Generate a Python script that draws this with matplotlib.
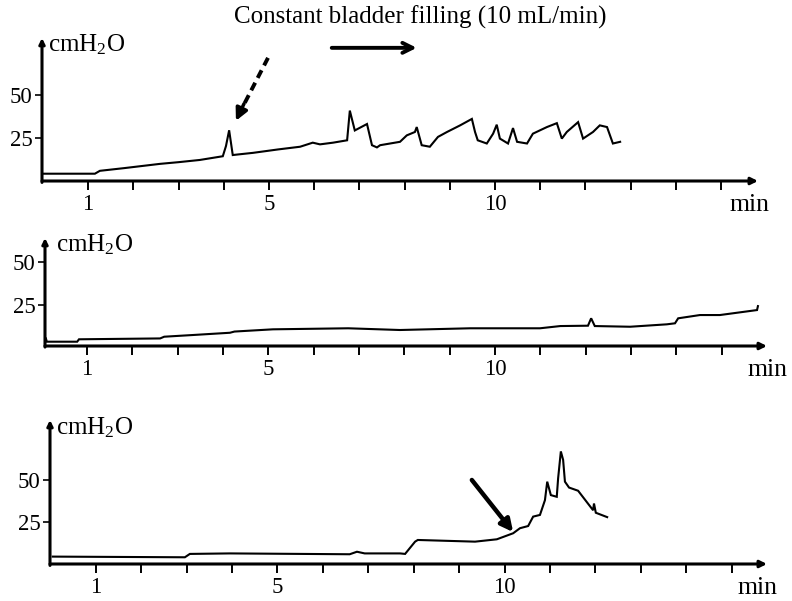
import matplotlib
matplotlib.use("Agg")
import matplotlib.pyplot as plt

plt.rcParams['font.family'] = ['Liberation Serif', 'DejaVu Serif']
plt.rcParams['mathtext.fontset'] = 'custom'
plt.rcParams['mathtext.rm'] = 'Liberation Serif'
plt.rcParams['mathtext.it'] = 'Liberation Serif'

# ---- data (time in min, pressure in cmH2O) ----
top_t = [0, 1.15, 1.26, 1.8, 2.59, 3.0, 3.47, 3.98, 4.05, 4.12, 4.2, 4.3, 4.65, 5.2,
         5.69, 5.97, 6.13, 6.42, 6.73, 6.79, 6.9, 7.17, 7.28, 7.39, 7.46, 7.9, 8.05,
         8.23, 8.27, 8.38, 8.56, 8.74, 8.94, 9.23, 9.49, 9.56, 9.62, 9.82, 9.96, 10.04,
         10.11, 10.29, 10.4, 10.49, 10.71, 10.84, 11.15, 11.37, 11.48, 11.59, 11.84,
         11.95, 12.17, 12.32, 12.48, 12.61, 12.77]
top_p = [3.7, 3.7, 5.4, 7.0, 9.5, 10.5, 11.8, 14.0, 20.0, 29.3, 14.7, 15.0, 16.0, 18.0,
         19.6, 22.0, 21.0, 22.0, 23.4, 40.9, 29.2, 33.0, 20.5, 19.2, 20.5, 22.5, 26.3,
         28.3, 31.2, 20.5, 19.6, 25.4, 28.3, 32.2, 36.0, 28.3, 23.4, 21.5, 27.3, 32.6,
         24.4, 21.5, 30.6, 22.5, 21.5, 27.3, 31.2, 33.5, 24.4, 28.3, 34.1,
         24.4, 28.3, 32.2, 31.2, 21.5, 22.5]

mid_t = [0.09, 0.11, 0.78, 0.82, 2.61, 2.7, 3.34, 4.15, 4.25, 5.1, 6.76, 7.9, 9.45,
         10.99, 11.44, 12.05, 12.12, 12.2, 12.98, 13.79, 13.97, 14.04, 14.52, 14.96,
         15.78, 15.8]
mid_p = [5.6, 3.7, 3.7, 5.1, 5.6, 6.6, 7.6, 8.9, 9.6, 10.9, 11.5, 10.5, 11.5,
         11.5, 12.8, 13.0, 17.3, 12.8, 12.4, 13.8, 14.4, 17.3, 19.2, 19.2,
         22.1, 24.4]

bot_t = [0.05, 2.96, 3.07, 3.95, 6.59, 6.75, 6.92, 7.7, 7.81, 8.03, 8.09, 9.35, 9.83,
         10.19, 10.34, 10.52, 10.63, 10.78, 10.89, 10.94, 11.02, 11.15, 11.18, 11.24,
         11.29, 11.33, 11.42, 11.62, 11.95, 11.97, 12.01, 12.26]
bot_p = [4.4, 4.0, 6.0, 6.3, 5.8, 7.3, 6.3, 6.3, 6.0, 13.3, 14.3, 13.3, 14.7,
         18.3, 21.3, 22.6, 28.2, 29.2, 38.0, 49.0, 41.0, 40.0, 51.0, 67.0,
         62.0, 49.0, 45.5, 43.6, 32.0, 36.0, 30.5, 27.9]

x_ticks = list(range(1, 16))
x_labels = {1: '1', 5: '5', 10: '10'}
y_ticks = [25, 50]
title = 'Constant bladder filling (10 mL/min)'
y_unit = 'cmH$_{\\mathrm{2}}$O'
x_unit = 'min'

W, H = 792, 601
fig = plt.figure(figsize=(W / 100, H / 100), dpi=100)

# panel geometry in pixels: (left, xaxis_y, top, right), xlim, ylim
panels = [
    dict(px=(42, 181, 38, 758), xlim=(-0.02, 15.82), ylim=(-0.6, 83.7),
         t=top_t, p=top_p, unit_xy=(48, 45), min_xy=(750, 205)),
    dict(px=(45, 346, 238, 767), xlim=(0.07, 16.0), ylim=(1.2, 64.0),
         t=mid_t, p=mid_p, unit_xy=(56, 245), min_xy=(767, 370)),
    dict(px=(50, 564, 420, 767), xlim=(-0.01, 15.78), ylim=(0.0, 85.7),
         t=bot_t, p=bot_p, unit_xy=(56, 428), min_xy=(758, 588)),
]

axes = []
for pn in panels:
    l, b, t, r = pn['px']
    ax = fig.add_axes([l / W, (H - b) / H, (r - l) / W, (b - t) / H])
    ax.set_xlim(*pn['xlim'])
    ax.set_ylim(*pn['ylim'])
    ax.plot(pn['t'], pn['p'], color='black', lw=1.5, solid_joinstyle='miter')
    for s in ax.spines.values():
        s.set_visible(False)
    ax.set_xticks(x_ticks)
    ax.set_xticklabels([x_labels.get(v, '') for v in x_ticks])
    ax.set_yticks(y_ticks)
    ax.set_yticklabels([str(v) for v in y_ticks])
    ax.tick_params(axis='x', direction='out', length=6.5, width=1.4, pad=3,
                   labelsize=16.5)
    ax.tick_params(axis='y', direction='out', length=5, width=1.2, pad=2,
                   labelsize=16.5)
    ax.patch.set_alpha(0)
    # axis arrows
    ax.annotate('', xy=(1, 0), xytext=(0, 0), xycoords='axes fraction',
                arrowprops=dict(arrowstyle='-|>', lw=2.2, color='black',
                                mutation_scale=10, shrinkA=0, shrinkB=0))
    ax.annotate('', xy=(0, 1), xytext=(0, -0.01), xycoords='axes fraction',
                arrowprops=dict(arrowstyle='-|>', lw=2.2, color='black',
                                mutation_scale=8, shrinkA=0, shrinkB=0))
    ux, uy = pn['unit_xy']
    fig.text(ux / W, 1 - uy / H, y_unit, fontsize=18, ha='left', va='center')
    mx, my = pn['min_xy']
    fig.text(mx / W, 1 - my / H, x_unit, fontsize=18.5, ha='center', va='center')
    axes.append(ax)

ax0, ax1, ax2 = axes
# title and horizontal filling arrow (data coords of top panel)
ax0.text(8.35, 96.0, title, fontsize=18, ha='center', va='center', clip_on=False)
ax0.annotate('', xy=(8.27, 77.9), xytext=(6.39, 77.9), annotation_clip=False,
             arrowprops=dict(arrowstyle='->', lw=2.8, color='black',
                             mutation_scale=18, shrinkA=0, shrinkB=0))
# dashed arrow pointing to first spike
ax0.plot([4.98, 4.38], [72.0, 41.0], color='black', lw=2.8, ls=(0, (2.2, 1.4)))
ax0.annotate('', xy=(4.27, 34.9), xytext=(4.45, 45.0), annotation_clip=False,
             arrowprops=dict(arrowstyle='-|>', lw=2.5, color='black',
                             mutation_scale=18, shrinkA=0, shrinkB=0))
# bottom arrow
ax2.annotate('', xy=(10.19, 19.0), xytext=(9.28, 50.0), annotation_clip=False,
             arrowprops=dict(arrowstyle='-|>', lw=3.2, color='black',
                             mutation_scale=18, shrinkA=0, shrinkB=0))

fig.savefig('out.png', dpi=100)
